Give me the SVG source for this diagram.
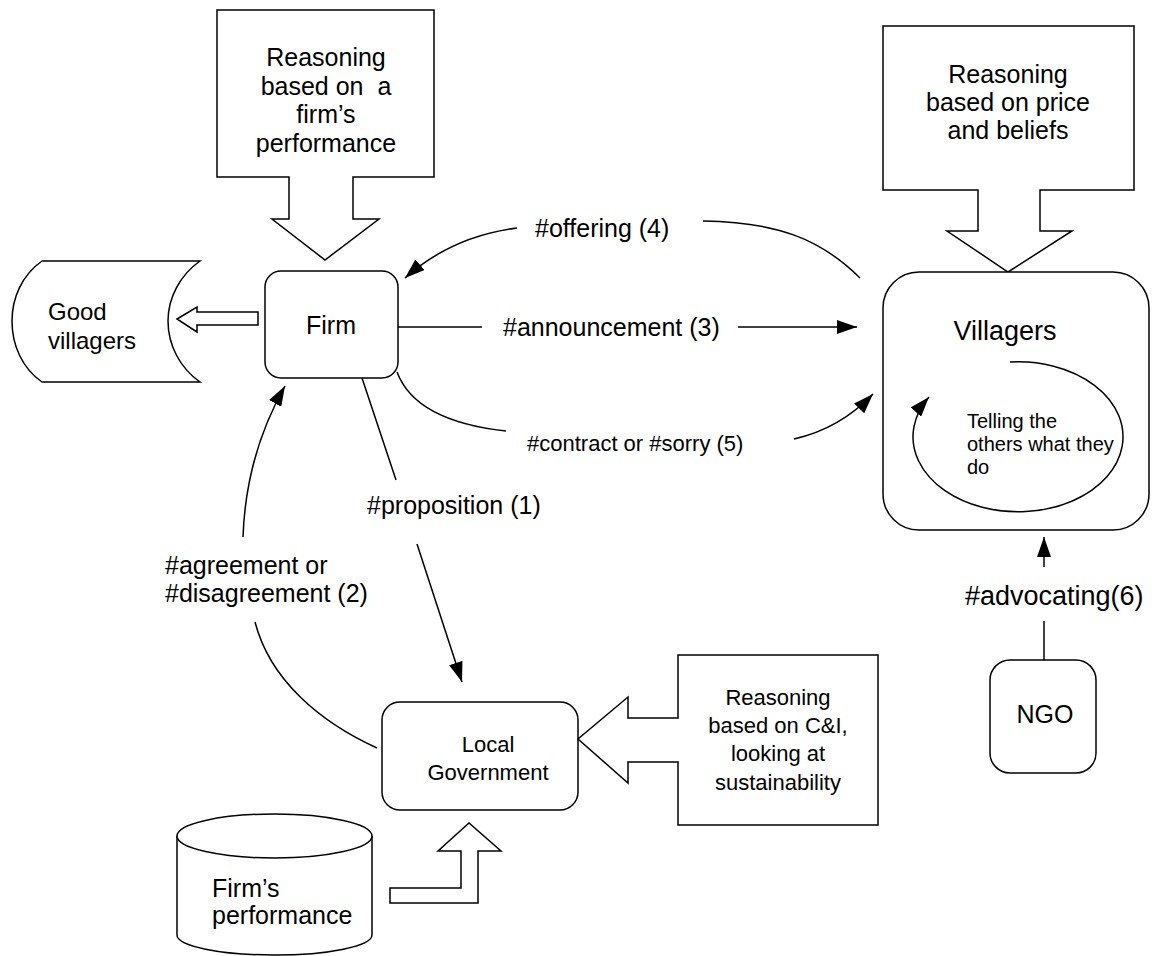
<svg xmlns="http://www.w3.org/2000/svg" width="1160" height="956" viewBox="0 0 1160 956">
<style>
.s{fill:#fff;stroke:#000;stroke-width:1.5}
.c{fill:none;stroke:#000;stroke-width:1.5}
text{font-family:"Liberation Sans",Arial,sans-serif;fill:#000}
.m{text-anchor:middle}
</style>
<defs>
<marker id="ah" viewBox="0 0 20 14" refX="20" refY="7" markerWidth="20" markerHeight="14" markerUnits="userSpaceOnUse" orient="auto">
<path d="M0,0 L20,7 L0,14 z" fill="#000"/>
</marker>
</defs>
<rect width="1160" height="956" fill="#fff"/>

<g id="reason-firm">
<path class="s" d="M217,10 H434 V177 H353 V219 H379 L325,260 L272,219 H289 V177 H217 Z"/>
<text class="m" font-size="25"><tspan x="326" y="66">Reasoning</tspan><tspan x="326" y="95" style="white-space:pre">based on  a</tspan><tspan x="326" y="123">firm’s</tspan><tspan x="326" y="152">performance</tspan></text>
</g>

<g id="reason-villagers">
<path class="s" d="M883,26 H1134 V190 H1040 V231 H1072 L1008,272 L947,231 H978 V190 H883 Z"/>
<text class="m" font-size="25"><tspan x="1008" y="83">Reasoning</tspan><tspan x="1008" y="111">based on price</tspan><tspan x="1008" y="139">and beliefs</tspan></text>
</g>

<g id="good-villagers">
<path class="s" d="M42,261 L200,261 C180,275 168,298 168,321 C168,345 180,368 200,382 L42,382 C22,368 12,345 12,321 C12,298 22,275 42,261 Z"/>
<polygon class="s" points="177,319 197,307 197,312 258,312 258,325 197,325 197,332"/>
<text font-size="24"><tspan x="48" y="320">Good</tspan><tspan x="48" y="349">villagers</tspan></text>
</g>

<g id="firm">
<rect class="s" x="265" y="271" width="133" height="107" rx="16"/>
<text class="m" x="331" y="334" font-size="25">Firm</text>
</g>

<g id="villagers">
<rect class="s" x="883" y="272" width="266" height="258" rx="36"/>
<text class="m" x="1005" y="340" font-size="27">Villagers</text>
<path class="c" d="M1010,362 A105,75 0 1,1 929,397" marker-end="url(#ah)"/>
<text font-size="20"><tspan x="967" y="428">Telling the</tspan><tspan x="967" y="451">others what they</tspan><tspan x="967" y="474">do</tspan></text>
</g>

<g id="ngo">
<rect class="s" x="990" y="660" width="106" height="113" rx="20"/>
<text class="m" x="1045" y="723" font-size="25">NGO</text>
</g>

<g id="local-government">
<rect class="s" x="382" y="702" width="196" height="108" rx="18"/>
<text class="m" font-size="22"><tspan x="488" y="752">Local</tspan><tspan x="488" y="780">Government</tspan></text>
</g>

<g id="reason-government">
<path class="s" d="M878,655 V825 H678 V762 H628 V783 L578,739 L628,697 V718 H678 V655 Z"/>
<text class="m" font-size="22"><tspan x="778" y="705">Reasoning</tspan><tspan x="778" y="733">based on C&amp;I,</tspan><tspan x="778" y="761">looking at</tspan><tspan x="778" y="790">sustainability</tspan></text>
</g>

<g id="firms-performance">
<path class="s" d="M177,836 V935 A97.5,20 0 0,0 372,935 V836"/>
<ellipse class="s" cx="274.5" cy="836" rx="97.5" ry="22"/>
<polygon class="s" points="390,888 461,888 461,851 438,851 469,823 501,851 478,851 478,903 390,903"/>
<text font-size="25"><tspan x="212" y="897">Firm’s</tspan><tspan x="212" y="924">performance</tspan></text>
</g>

<g id="connectors">
<path class="c" d="M860,278 C820,238 775,222 703,221"/>
<path class="c" d="M517,228 C470,234 432,254 405,278" marker-end="url(#ah)"/>
<text x="535" y="237" font-size="25">#offering (4)</text>

<path class="c" d="M398,327 H482"/>
<path class="c" d="M738,327 H857" marker-end="url(#ah)"/>
<text x="503" y="336" font-size="25">#announcement (3)</text>

<path class="c" d="M397,372 C412,412 460,426 506,431"/>
<path class="c" d="M794,439 C825,432 850,418 873,394" marker-end="url(#ah)"/>
<text x="527" y="451" font-size="22">#contract or #sorry (5)</text>

<path class="c" d="M362,378 L396,480"/>
<path class="c" d="M417,544 L462,682" marker-end="url(#ah)"/>
<text x="367" y="514" font-size="25">#proposition (1)</text>

<path class="c" d="M377,748 C320,722 270,680 255,622"/>
<path class="c" d="M243,537 C245,480 260,430 285,386" marker-end="url(#ah)"/>
<text font-size="25"><tspan x="165" y="574">#agreement or</tspan><tspan x="165" y="602">#disagreement (2)</tspan></text>

<path class="c" d="M1044,660 V621"/>
<path class="c" d="M1044,567 V537" marker-end="url(#ah)"/>
<text x="965" y="605" font-size="27">#advocating(6)</text>
</g>
</svg>
